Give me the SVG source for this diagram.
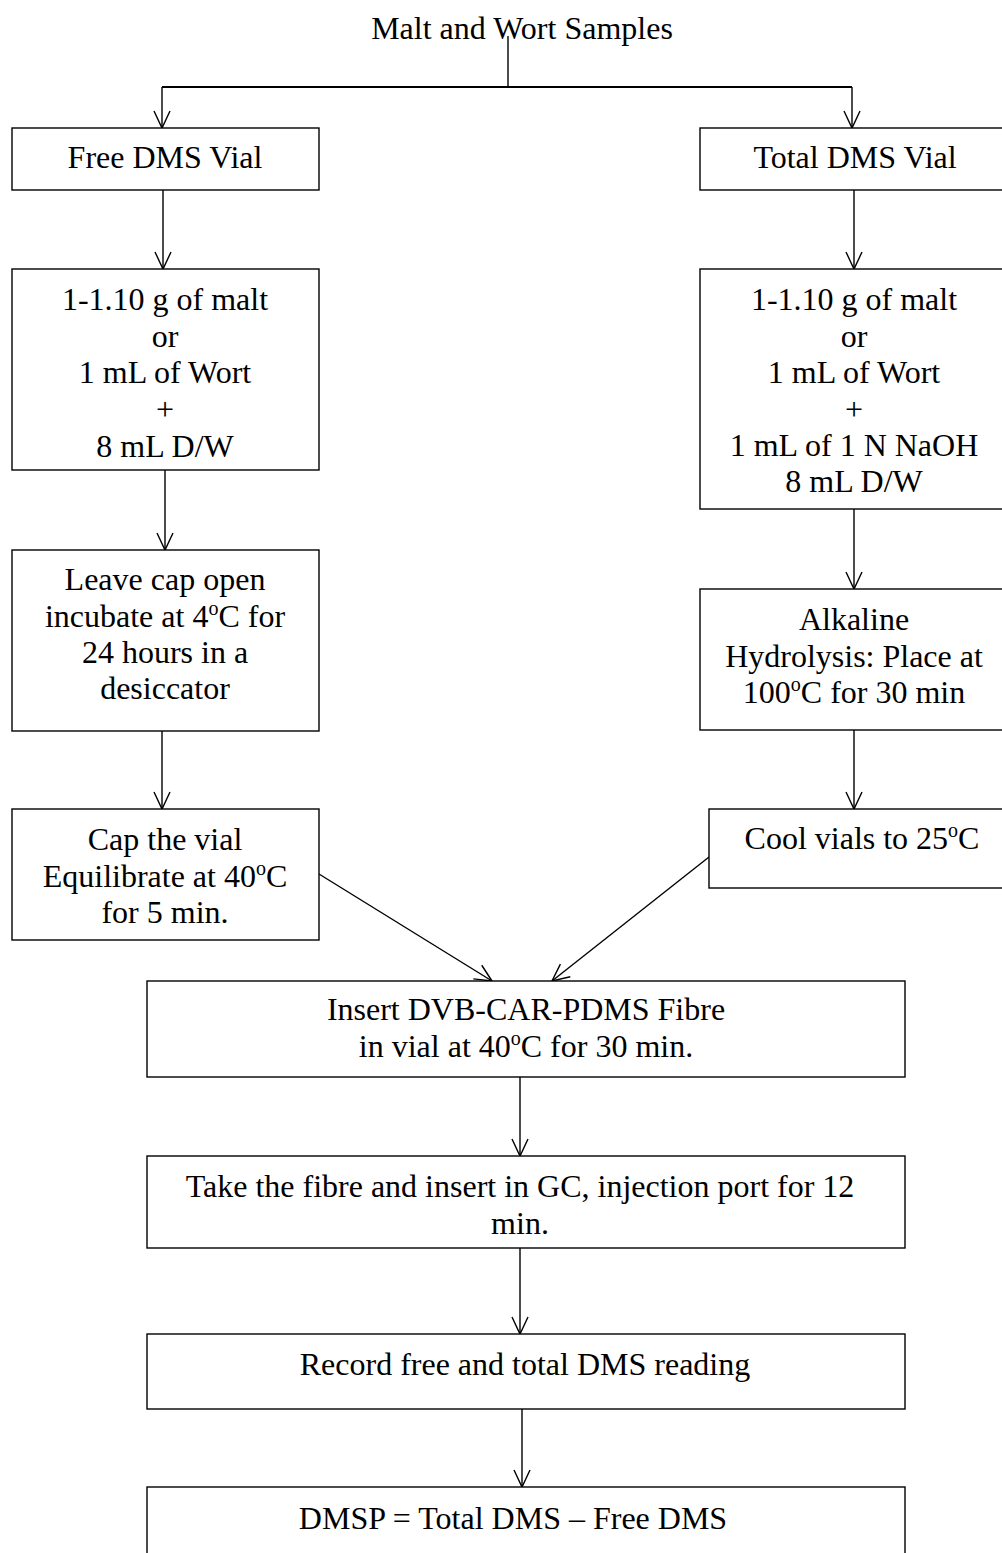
<svg xmlns="http://www.w3.org/2000/svg" width="1002" height="1553" viewBox="0 0 1002 1553">
<defs>
<style>
text{font-family:"Liberation Serif","Times New Roman",serif;font-size:32px;fill:#000;text-anchor:middle}
.box{fill:#fff;stroke:#000;stroke-width:1.4}
.ln{fill:none;stroke:#000;stroke-width:1.4}
.ar{fill:none;stroke:#000;stroke-width:1.4;marker-end:url(#ah)}
.sup{font-size:20px}
</style>
<marker id="ah" markerUnits="userSpaceOnUse" viewBox="-1 -1 20 18" refX="17" refY="8" markerWidth="20" markerHeight="18" orient="auto" overflow="visible">
<path d="M0,0 L17,8 L0,16" fill="none" stroke="#000" stroke-width="1.4"/>
</marker>
</defs>
<rect width="1002" height="1553" fill="#fff"/>

<g id="connectors">
<line class="ln" x1="508" y1="36" x2="508" y2="87"/>
<line class="ln" x1="162" y1="87" x2="852" y2="87" style="stroke-width:2"/>
<line class="ar" x1="162" y1="87" x2="162" y2="128"/>
<line class="ar" x1="852" y1="87" x2="852" y2="128"/>
<line class="ar" x1="163" y1="190" x2="163" y2="269"/>
<line class="ar" x1="165" y1="470" x2="165" y2="550"/>
<line class="ar" x1="162" y1="731" x2="162" y2="809"/>
<line class="ar" x1="854" y1="190" x2="854" y2="269"/>
<line class="ar" x1="854" y1="509" x2="854" y2="589"/>
<line class="ar" x1="854" y1="730" x2="854" y2="809"/>
<line class="ar" x1="319" y1="874" x2="492" y2="981"/>
<line class="ar" x1="709" y1="857" x2="552" y2="981"/>
<line class="ar" x1="520" y1="1077" x2="520" y2="1156"/>
<line class="ar" x1="520" y1="1248" x2="520" y2="1334"/>
<line class="ar" x1="522" y1="1409" x2="522" y2="1487"/>
</g>

<g id="start"><text x="522" y="39">Malt and Wort Samples</text></g>

<g id="free-vial">
<rect class="box" x="12" y="128" width="307" height="62"/>
<text x="165" y="168">Free DMS Vial</text>
</g>
<g id="total-vial">
<rect class="box" x="700" y="128" width="320" height="62"/>
<text x="855" y="168">Total DMS Vial</text>
</g>

<g id="free-sample">
<rect class="box" x="12" y="269" width="307" height="201"/>
<text x="165" y="310">1-1.10 g of malt</text>
<text x="165" y="347">or</text>
<text x="165" y="383">1 mL of Wort</text>
<text x="165" y="420">+</text>
<text x="165" y="457">8 mL D/W</text>
</g>
<g id="total-sample">
<rect class="box" x="700" y="269" width="320" height="240"/>
<text x="854" y="310">1-1.10 g of malt</text>
<text x="854" y="347">or</text>
<text x="854" y="383">1 mL of Wort</text>
<text x="854" y="420">+</text>
<text x="854" y="456">1 mL of 1 N NaOH</text>
<text x="854" y="492">8 mL D/W</text>
</g>

<g id="free-incubate">
<rect class="box" x="12" y="550" width="307" height="181"/>
<text x="165" y="590">Leave cap open</text>
<text x="165" y="627">incubate at 4<tspan class="sup" dy="-12">o</tspan><tspan dy="12">C for</tspan></text>
<text x="165" y="663">24 hours in a</text>
<text x="165" y="699">desiccator</text>
</g>
<g id="total-hydrolysis">
<rect class="box" x="700" y="589" width="320" height="141"/>
<text x="854" y="630">Alkaline</text>
<text x="854" y="667">Hydrolysis: Place at</text>
<text x="854" y="703">100<tspan class="sup" dy="-12">o</tspan><tspan dy="12">C for 30 min</tspan></text>
</g>

<g id="free-cap">
<rect class="box" x="12" y="809" width="307" height="131"/>
<text x="165" y="850">Cap the vial</text>
<text x="165" y="887">Equilibrate at 40<tspan class="sup" dy="-12">o</tspan><tspan dy="12">C</tspan></text>
<text x="165" y="923">for 5 min.</text>
</g>
<g id="total-cool">
<rect class="box" x="709" y="809" width="320" height="79"/>
<text x="862" y="849">Cool vials to 25<tspan class="sup" dy="-12">o</tspan><tspan dy="12">C</tspan></text>
</g>

<g id="insert-fibre">
<rect class="box" x="147" y="981" width="758" height="96"/>
<text x="526" y="1020">Insert DVB-CAR-PDMS Fibre</text>
<text x="526" y="1057">in vial at 40<tspan class="sup" dy="-12">o</tspan><tspan dy="12">C for 30 min.</tspan></text>
</g>

<g id="gc-inject">
<rect class="box" x="147" y="1156" width="758" height="92"/>
<text x="520" y="1197">Take the fibre and insert in GC, injection port for 12</text>
<text x="520" y="1234">min.</text>
</g>

<g id="record">
<rect class="box" x="147" y="1334" width="758" height="75"/>
<text x="525" y="1375">Record free and total DMS reading</text>
</g>

<g id="dmsp">
<rect class="box" x="147" y="1487" width="758" height="90"/>
<text x="513" y="1529">DMSP = Total DMS – Free DMS</text>
</g>
</svg>
